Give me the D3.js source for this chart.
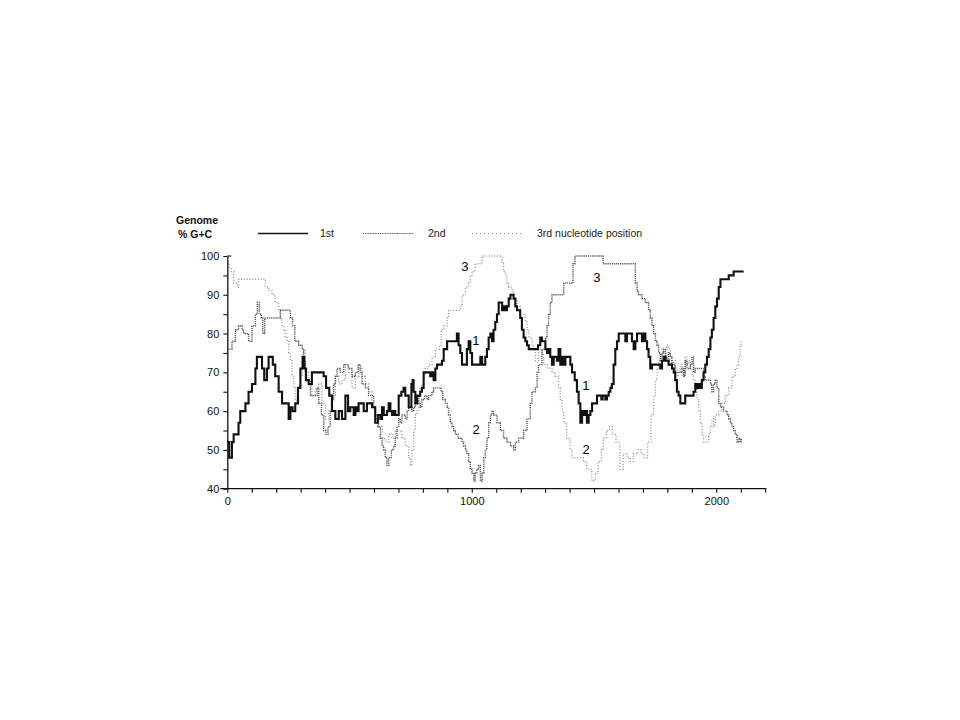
<!DOCTYPE html>
<html><head><meta charset="utf-8">
<script src="https://cdn.jsdelivr.net/npm/d3@7"></script>
<style>body{margin:0;background:#fff}svg{display:block}</style>
</head><body>
<svg id="c" width="960" height="720"></svg>
<script>
// ---- data (sequence position, % G+C) ----
const pos1 = [0,8,19,26,40,46,53,67,74,87,101,115,121,135,142,151,162,169,180,186,196,210,224,237,251,258,267,278,289,299,308,315,322,333,346,360,387,394,404,417,428,442,456,469,483,494,503,517,524,530,537,551,558,571,585,592,605,616,626,633,640,653,660,667,674,680,687,701,712,721,728,735,742,753,758,762,769,776,789,796,803,821,830,837,844,851,858,867,878,885,899,933,939,946,953,960,971,980,987,994,1001,1025,1035,1042,1055,1062,1069,1076,1083,1089,1096,1103,1110,1124,1130,1137,1144,1151,1158,1167,1171,1178,1185,1198,1205,1212,1219,1226,1233,1260,1271,1280,1287,1301,1308,1314,1321,1328,1335,1348,1355,1362,1369,1376,1383,1403,1410,1421,1430,1437,1444,1451,1458,1464,1471,1478,1485,1492,1512,1530,1535,1546,1553,1560,1567,1573,1580,1587,1594,1601,1621,1628,1635,1655,1662,1669,1676,1689,1696,1703,1710,1717,1723,1730,1737,1764,1771,1778,1785,1792,1805,1819,1826,1832,1839,1846,1853,1867,1873,1901,1907,1914,1921,1928,1935,1941,1948,1955,1962,1969,1976,1982,1989,1996,2003,2010,2017,2044,2051,2071,2112];
const gc1  = [52,48,52,54,54,57,60,60,62,65,67,71,74,74,71,68,71,74,74,72,69,65,62,62,58,61,60,62,66,71,74,71,68,67,70,70,70,69,66,64,60,58,60,58,64,60,61,59,61,60,62,62,60,62,62,61,57,59,58,61,59,60,62,60,59,60,59,64,65,66,64,64,61,67,68,65,62,64,65,66,70,70,69,70,68,71,72,72,73,76,78,78,80,77,75,72,72,76,78,75,72,72,74,72,74,76,79,80,78,81,83,85,88,86,87,86,87,89,90,90,89,87,86,84,81,79,78,77,76,76,77,79,78,76,75,76,74,72,74,73,76,72,74,72,74,72,70,68,65,62,57,60,59,60,57,59,60,62,64,63,64,63,64,65,66,67,72,76,78,80,80,78,80,78,76,78,80,80,78,80,78,76,74,71,72,72,71,73,74,73,72,71,70,68,65,64,62,62,64,64,65,67,66,67,66,68,70,72,74,76,79,81,84,87,89,92,94,94,95,96,96];

const pos2 = [0,8,19,33,46,60,67,80,87,101,115,123,131,139,145,153,210,217,251,258,267,276,285,292,306,312,319,340,353,367,374,385,394,404,412,421,428,435,442,449,462,476,486,494,510,524,535,544,551,565,578,592,599,605,616,626,633,640,646,653,660,671,680,687,694,701,708,714,728,735,742,755,762,769,776,783,789,796,807,817,824,837,844,867,875,881,892,899,905,912,919,926,933,944,960,967,974,980,987,994,1001,1008,1014,1021,1028,1035,1042,1049,1055,1062,1069,1076,1083,1089,1103,1117,1130,1144,1158,1171,1178,1192,1212,1226,1239,1246,1260,1267,1273,1287,1301,1308,1314,1321,1328,1374,1376,1408,1414,1422,1530,1537,1662,1669,1676,1682,1696,1710,1723,1730,1737,1744,1751,1758,1764,1771,1778,1785,1792,1798,1805,1812,1819,1832,1846,1860,1867,1873,1880,1894,1901,1907,1914,1941,1948,1955,1969,1976,1982,1989,1996,2003,2010,2017,2030,2044,2051,2057,2064,2071,2078,2085,2091,2098,2102];
const gc2  = [76,76,78,81,82,81,80,80,78,82,85,88,85,84,80,84,84,86,86,84,82,78,78,77,76,73,68,64,64,66,62,59,55,54,56,60,63,67,69,71,70,72,72,71,69,70,72,70,67,66,64,64,61,58,56,53,51,50,48,46,48,50,51,53,56,58,57,59,58,60,61,60,61,62,64,62,61,63,64,63,64,65,66,66,65,63,62,61,59,57,56,55,54,53,52,51,50,49,47,45,44,42,44,45,46,42,44,48,50,53,57,59,60,59,57,55,53,52,51,50,52,53,55,58,62,65,66,70,72,76,79,82,85,88,90,90,93,93,98,100,100,98,98,93,91,90,89,88,86,84,82,80,78,77,75,73,75,76,74,73,75,74,72,70,70,71,69,73,71,72,74,70,71,71,69,68,68,67,65,67,68,66,62,61,60,59,58,57,56,55,54,52,53,52,53];

const pos3 = [0,8,16,26,40,46,149,155,169,183,196,210,217,224,231,237,244,251,258,265,272,278,285,292,299,306,312,319,333,346,360,374,387,401,415,428,442,456,469,483,497,510,524,537,551,565,578,592,605,619,633,646,660,674,687,701,714,728,742,749,755,762,769,776,783,789,796,803,810,824,837,851,867,875,885,899,905,946,953,960,974,987,994,1001,1014,1035,1042,1117,1124,1130,1137,1144,1151,1164,1171,1185,1198,1219,1226,1233,1246,1253,1260,1273,1287,1294,1308,1328,1342,1355,1362,1369,1376,1388,1402,1410,1430,1456,1470,1491,1505,1517,1530,1538,1550,1563,1575,1590,1606,1619,1635,1648,1660,1679,1692,1706,1719,1733,1744,1751,1758,1764,1771,1778,1785,1792,1798,1805,1812,1819,1826,1832,1839,1846,1853,1860,1867,1873,1880,1887,1894,1901,1907,1914,1921,1928,1935,1941,1948,1962,1969,1976,1982,1989,1996,2010,2023,2037,2051,2064,2078,2085,2091,2098,2102];
const gc3  = [98,97,96,93,92,94,94,92,91,90,88,86,84,82,81,79,78,75,73,69,66,63,62,66,69,73,76,70,67,64,66,67,62,58,60,64,69,67,68,72,70,66,69,71,69,67,65,61,59,56,53,52,54,53,55,55,53,51,48,46,50,55,59,60,64,66,67,69,71,72,74,76,77,81,82,84,86,86,87,90,92,93,95,96,98,98,100,100,98,96,95,93,92,91,89,87,85,83,81,79,77,76,73,76,75,72,71,70,69,66,63,60,57,53,50,48,48,47,45,42,44,47,50,53,55,56,54,52,45,49,48,47,49,50,49,48,52,59,64,68,71,73,74,76,75,74,77,76,73,72,73,71,69,70,72,69,70,74,72,73,71,69,68,66,63,60,57,54,52,52,54,56,58,56,59,60,62,64,66,69,71,72,74,77,78];

const seriesNames = ["1st", "2nd", "3rd nucleotide position"];
const yTickValues = [40,45,50,55,60,65,70,75,80,85,90,95,100];
const yLabelValues = [40,50,60,70,80,90,100];
const xTickValues = d3.range(0, 2201, 100);
const xLabelValues = [0, 1000, 2000];
const curveLabels = [
  {t:"3", x:972, v:97.2}, {t:"1", x:1017, v:78.1}, {t:"2", x:1018, v:55.3},
  {t:"3", x:1512, v:94.5}, {t:"1", x:1467, v:66.7}, {t:"2", x:1468, v:50.0}
];

// ---- drawing ----
const svg = d3.select("#c");
svg.append("rect").attr("width",960).attr("height",720).attr("fill","#fff");
const FONT = "'Liberation Sans', Arial, Helvetica, sans-serif";

const x = d3.scaleLinear().domain([0, 2205]).range([227.3, 766.4]);
const y = d3.scaleLinear().domain([40, 100]).range([488.7, 256]);

const styles = [
  {stroke:"#111", width:2.1, dash:null},
  {stroke:"#555", width:1.4, dash:"1.2,0.9"},
  {stroke:"#8f8f8f", width:1.3, dash:"1,1.8"}
];
const sets = [[pos1,gc1],[pos2,gc2],[pos3,gc3]];
const line = d3.line().x(d => x(d[0])).y(d => y(d[1])).curve(d3.curveStepAfter);

// draw 3rd, 2nd, then 1st on top
[2,1,0].forEach(i => {
  const [p, g] = sets[i];
  const pts = p.map((v, k) => [v, g[k]]);
  const path = svg.append("path").datum(pts).attr("d", line)
    .attr("fill","none").attr("stroke", styles[i].stroke)
    .attr("stroke-width", styles[i].width).attr("stroke-linejoin","miter");
  if (styles[i].dash) path.attr("stroke-dasharray", styles[i].dash);
});

// axes
const yAxis = d3.axisLeft(y).tickValues(yTickValues).tickSize(4).tickSizeOuter(0)
  .tickFormat(d => yLabelValues.includes(d) ? d : "");
const gy = svg.append("g").attr("transform", `translate(${x(0)},0)`).call(yAxis);
gy.select(".domain").attr("stroke","#111").attr("stroke-width",1.3);
gy.selectAll(".tick line").attr("stroke","#111").attr("stroke-width",1.1);
gy.selectAll(".tick text").attr("font-family",FONT).attr("font-size",11).attr("fill","#111").attr("x",-8);
svg.append("line").attr("x1", x(0)).attr("x2", x(0)+4).attr("y1", y(100)).attr("y2", y(100))
  .attr("stroke","#111").attr("stroke-width",1.1);

const xAxis = d3.axisBottom(x).tickValues(xTickValues).tickSize(4).tickSizeOuter(0)
  .tickFormat(d => xLabelValues.includes(d) ? d : "");
const gx = svg.append("g").attr("transform", `translate(0,${y(40)})`).call(xAxis);
gx.select(".domain").attr("stroke","#111").attr("stroke-width",1.3)
  .attr("d", `M${x(0)-7},0H${x(2205)}`);
gx.selectAll(".tick line").attr("stroke","#111").attr("stroke-width",1.1);
gx.selectAll(".tick text").attr("font-family",FONT).attr("font-size",11).attr("fill","#111").attr("y",9);

// curve labels
svg.selectAll("text.cl").data(curveLabels).enter().append("text")
  .attr("class","cl").attr("x", d => x(d.x)).attr("y", d => y(d.v)).attr("dy","0.35em")
  .attr("text-anchor","middle").attr("font-family",FONT).attr("font-size",13).attr("fill","#000")
  .text(d => d.t);

// title / legend
svg.append("text").attr("x",176).attr("y",224).attr("font-family",FONT).attr("font-size",10.5)
  .attr("font-weight","bold").attr("fill","#111").text("Genome");
svg.append("text").attr("x",178).attr("y",238).attr("font-family",FONT).attr("font-size",10.5)
  .attr("font-weight","bold").attr("fill","#111").text("% G+C");

const legendX = [258, 363, 472];
const legendTextX = [320, 428, 537];
seriesNames.forEach((n, i) => {
  const l = svg.append("line").attr("x1", legendX[i]).attr("x2", legendX[i] + 50)
    .attr("y1", 233.5).attr("y2", 233.5).attr("stroke", styles[i].stroke)
    .attr("stroke-width", i === 0 ? 1.4 : 1.2);
  if (styles[i].dash) l.attr("stroke-dasharray", i === 1 ? "1,0.7" : "1,3");
  svg.append("text").attr("x", legendTextX[i]).attr("y", 237).attr("font-family",FONT)
    .attr("font-size",10.5).attr("fill","#222").text(n);
});
</script>
</body></html>
